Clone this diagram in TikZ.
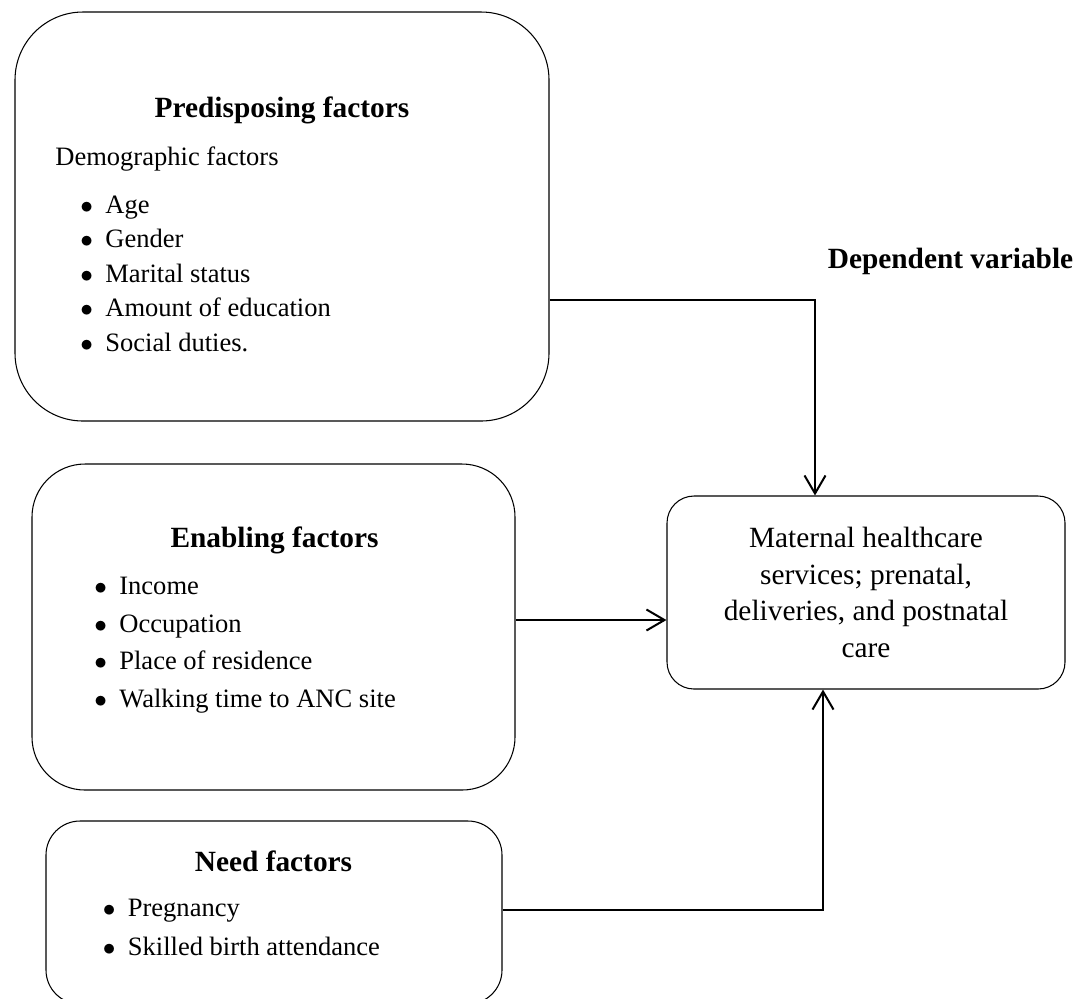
\documentclass[tikz,border=0pt]{standalone}
\usepackage{fontspec}
\setmainfont{Liberation Serif}
\usepackage{tikz}
\usetikzlibrary{arrows.meta}
\newcommand{\puce}{\makebox[0.5cm][l]{$\bullet$}}
\tikzset{
    boitepre/.style={
           rectangle,
           rounded corners=1.36cm,
           draw=black, line width=0.6pt,
           minimum width=10.68cm,
           minimum height=8.18cm},
    boiteen/.style={
           rectangle,
           rounded corners=1.06cm,
           draw=black, line width=0.6pt,
           minimum width=9.66cm,
           minimum height=6.52cm},
    boitebes/.style={
           rectangle,
           rounded corners=0.68cm,
           draw=black, line width=0.6pt,
           minimum width=9.12cm,
           minimum height=3.66cm},
    boitedep/.style={
           rectangle,
           rounded corners=0.54cm,
           draw=black, line width=0.6pt,
           minimum width=7.96cm,
           minimum height=3.86cm,
           align=center,
           font=\fontsize{16.7pt}{20.9pt}\selectfont},
    titre/.style={anchor=base, inner sep=0pt,
           font=\fontsize{16.7pt}{20pt}\selectfont\bfseries},
    texte/.style={anchor=base west, inner sep=0pt, align=left,
           font=\fontsize{15.1pt}{19.6pt}\selectfont},
    fleche/.style={-{Straight Barb[length=0.36cm,width=0.42cm]},
           black, line width=1.15pt}
    }
\begin{document}
\begin{tikzpicture}
      \useasboundingbox (0,0) rectangle (21.72,-19.96);
      \node[boitepre] (pre) at (5.64,-4.33) {};
      \node[boiteen] (en) at (5.47,-12.54) {};
      \node[boitebes] (bes) at (5.48,-18.25) {};
      \node[boitedep] (dep) at (17.32,-11.85) {Maternal healthcare \\ services; prenatal, \\ deliveries, and postnatal \\ care};
      % predisposing (base = last line)
      \node[titre] (tpre) at (5.64,-2.34) {Predisposing factors};
      \node[texte] (demo) at (1.10,-3.30) {Demographic factors};
      \node[texte] (lpre) at (1.60,-7.02) {\puce Age \\ \puce Gender \\ \puce Marital status \\ \puce Amount of education \\ \puce Social duties.};
      % enabling
      \node[titre] (ten) at (5.49,-10.95) {Enabling factors};
      \node[texte, font=\fontsize{15.1pt}{21.3pt}\selectfont] (len) at (1.88,-14.14) {\puce Income \\ \puce Occupation \\ \puce Place of residence \\ \puce Walking time to ANC site};
      % need
      \node[titre] (tbes) at (5.47,-17.42) {Need factors};
      \node[texte, font=\fontsize{15.1pt}{22.2pt}\selectfont] (lbes) at (2.05,-19.10) {\puce Pregnancy \\ \puce Skilled birth attendance};
      \node[titre] (tdep) at (19.01,-5.36) {Dependent variable};
      \draw[fleche] ([yshift=-1.67cm]pre.east) -| ([xshift=-1.02cm]dep.north);
      \draw[fleche] ([yshift=0.14cm]en.east) -- ([yshift=0.14cm]en.east -| dep.west);
      \draw[fleche] ([yshift=0.05cm]bes.east) -| ([xshift=-0.86cm]dep.south);
\end{tikzpicture}
\end{document}
